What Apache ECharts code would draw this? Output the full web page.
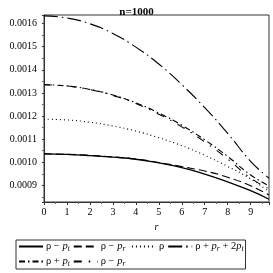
<!DOCTYPE html>
<html><head><meta charset="utf-8">
<script src="https://cdn.jsdelivr.net/npm/echarts@6/dist/echarts.min.js"></script>
<style>html,body{margin:0;padding:0;background:#fff}#c{width:273px;height:273px}</style>
</head><body><div id="c"></div>
<script>
var r = [0, 1, 2, 3, 4, 5, 6, 7, 8, 9, 9.8];
var rhoMinusPt = [0.001036, 0.001034, 0.001029, 0.001022, 0.001013, 0.000997, 0.000977, 0.000949, 0.000915, 0.000877, 0.000840];
var rhoMinusPr = [0.001036, 0.001034, 0.001030, 0.001023, 0.001014, 0.000999, 0.000981, 0.000962, 0.000935, 0.000898, 0.000858];
var rho = [0.001186, 0.001183, 0.001173, 0.001157, 0.001135, 0.001106, 0.001072, 0.001030, 0.000982, 0.000928, 0.000872];
var rhoPrPlus2Pt = [0.001633, 0.001624, 0.001599, 0.001557, 0.001498, 0.001425, 0.001336, 0.001236, 0.001125, 0.001004, 0.000931];
var rhoPlusPt = [0.001335, 0.001330, 0.001315, 0.001291, 0.001257, 0.001213, 0.001160, 0.001097, 0.001025, 0.000945, 0.000898];
var rhoPlusPr = [0.001335, 0.001330, 0.001314, 0.001289, 0.001254, 0.001208, 0.001153, 0.001088, 0.001014, 0.000932, 0.000885];
var names = ['ρ − {i|p}{s|t}', 'ρ − {i|p}{s|r} ', 'ρ', 'ρ + {i|p}{s|r} + 2{i|p}{s|t}', 'ρ + {i|p}{s|t}', 'ρ − {i|p}{s|r}'];
var FONT = 'Liberation Serif';
function pairs(v){ return r.map(function(x,i){ return [x, v[i]]; }); }
function ser(name, data, dash, w){
  return { name: name, type: 'line', data: pairs(data), smooth: true, showSymbol: false, symbol: 'circle', symbolSize: 0,
    lineStyle: { color: '#000', width: w || 1.1, type: dash }, itemStyle: { color: 'transparent', borderWidth: 0 }, z: 3 };
}
var chart = echarts.init(document.getElementById('c'), null, {renderer: 'canvas'});
chart.setOption({
  animation: false,
  title: { text: 'n=1000', left: 'center', top: 2, textStyle: { fontFamily: FONT, fontSize: 11, fontWeight: 'bold', color: '#000' } },
  grid: { left: 44, right: 4, top: 15, bottom: 71, show: true, borderColor: '#333', borderWidth: 1, containLabel: false },
  xAxis: { type: 'value', min: 0, max: 9.8, interval: 1, name: 'r', nameLocation: 'middle', nameGap: 19,
    nameTextStyle: { fontFamily: FONT, fontStyle: 'italic', fontSize: 10, color: '#000' },
    axisLine: { lineStyle: { color: '#333' } }, axisTick: { length: 3, lineStyle: { color: '#333' } },
    minorTick: { show: true, splitNumber: 2, length: 2, lineStyle: { color: '#666' } },
    splitLine: { show: false },
    axisLabel: { fontFamily: FONT, fontSize: 10, color: '#000', margin: 5, showMaxLabel: false } },
  yAxis: { type: 'value', min: 0.000828, max: 0.001637, splitNumber: 8,
    axisLine: { show: true, lineStyle: { color: '#333' } }, axisTick: { show: true, length: 2, lineStyle: { color: '#333' } },
    minorTick: { show: true, splitNumber: 2, length: 2, lineStyle: { color: '#666' } },
    splitLine: { show: false },
    axisLabel: { fontFamily: FONT, fontSize: 10, color: '#000', margin: 7, showMinLabel: false, showMaxLabel: false,
      formatter: function(v){ return v.toFixed(4); } } },
  legend: { left: 16, top: 240, width: 236, padding: [1, 2, 1, 2], itemGap: 3, itemWidth: 24, itemHeight: 10,
    borderColor: '#333', borderWidth: 1,
    itemStyle: { color: 'transparent', borderWidth: 0, opacity: 0 },
    data: names,
    textStyle: { fontFamily: FONT, fontSize: 10.5, color: '#000', padding: [0,0,0,-2],
      rich: { i: { fontFamily: FONT, fontStyle: 'italic', fontSize: 10.5, color: '#000' },
              s: { fontFamily: FONT, fontStyle: 'italic', fontSize: 7.5, color: '#000', verticalAlign: 'bottom', padding: [5,0,0,0] } } } },
  series: [
    ser(names[0], rhoMinusPt, 'solid', 1.3),
    ser(names[1], rhoMinusPr, [8, 4]),
    ser(names[2], rho, [1, 3]),
    ser(names[3], rhoPrPlus2Pt, [14, 4, 1.5, 4]),
    ser(names[4], rhoPlusPt, [6, 3, 1.5, 3]),
    ser(names[5], rhoPlusPr, [8, 7, 1.5, 7])
  ]
});
</script></body></html>
